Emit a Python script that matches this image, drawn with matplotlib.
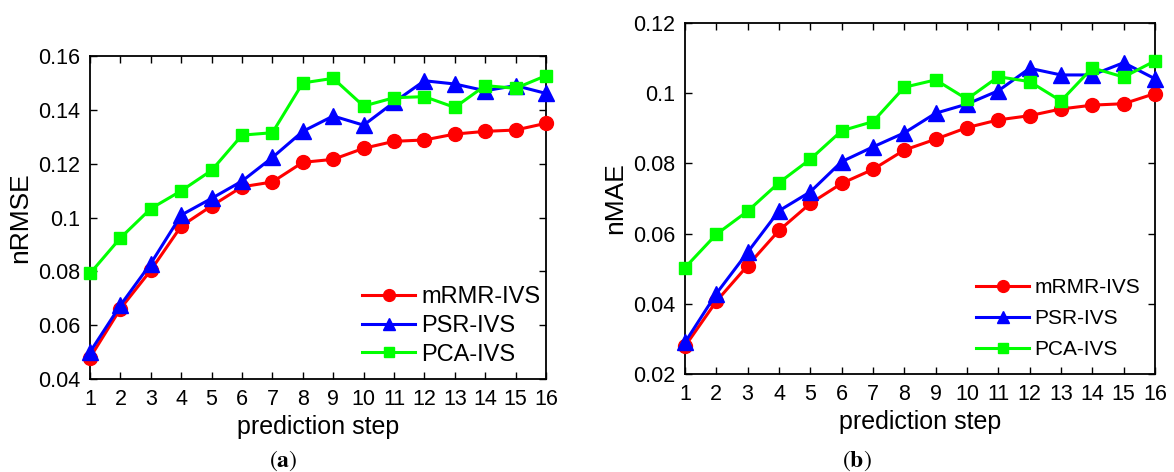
import numpy as np
import matplotlib
matplotlib.use("Agg")
import matplotlib.pyplot as plt

plt.rcParams['font.family'] = ['Liberation Sans', 'DejaVu Sans']
plt.rcParams['mathtext.fontset'] = 'stix'

steps = np.arange(1, 17)
series_names = ["mRMR-IVS", "PSR-IVS", "PCA-IVS"]

# (a) nRMSE per prediction step
nrmse_mrmr = [0.0479, 0.0661, 0.0804, 0.0968, 0.1043, 0.1114, 0.1132, 0.1205,
              0.1216, 0.1257, 0.1283, 0.1288, 0.1310, 0.1320, 0.1325, 0.1350]
nrmse_psr = [0.0500, 0.0674, 0.0829, 0.1009, 0.1071, 0.1135, 0.1223, 0.1320,
             0.1377, 0.1343, 0.1428, 0.1508, 0.1496, 0.1471, 0.1490, 0.1461]
nrmse_pca = [0.0792, 0.0924, 0.1033, 0.1099, 0.1175, 0.1306, 0.1315, 0.1500,
             0.1517, 0.1414, 0.1445, 0.1449, 0.1409, 0.1490, 0.1480, 0.1527]

# (b) nMAE per prediction step
nmae_mrmr = [0.0279, 0.0407, 0.0509, 0.0609, 0.0686, 0.0743, 0.0783, 0.0838,
             0.0869, 0.0902, 0.0924, 0.0936, 0.0955, 0.0966, 0.0970, 0.0999]
nmae_psr = [0.0290, 0.0429, 0.0547, 0.0665, 0.0719, 0.0805, 0.0847, 0.0887,
            0.0943, 0.0969, 0.1007, 0.1071, 0.1052, 0.1052, 0.1087, 0.1041]
nmae_pca = [0.0503, 0.0598, 0.0664, 0.0745, 0.0812, 0.0893, 0.0919, 0.1017,
            0.1038, 0.0983, 0.1047, 0.1033, 0.0978, 0.1072, 0.1046, 0.1092]

yticks_a = [0.04, 0.06, 0.08, 0.10, 0.12, 0.14, 0.16]
ylabels_a = ["0.04", "0.06", "0.08", "0.1", "0.12", "0.14", "0.16"]
yticks_b = [0.02, 0.04, 0.06, 0.08, 0.10, 0.12]
ylabels_b = ["0.02", "0.04", "0.06", "0.08", "0.1", "0.12"]

colors = ["#ff0000", "#0000ff", "#00ff00"]
markers = ["o", "^", "s"]
msizes = [10, 11, 9]

fig = plt.figure(figsize=(11.74, 4.72), dpi=100)
ax1 = fig.add_axes([90 / 1174, 1 - 379 / 472, 456 / 1174, 323 / 472])
ax2 = fig.add_axes([685 / 1174, 1 - 374 / 472, 470 / 1174, 351 / 472])


def draw_panel(ax, data, yticks, ylabels, ylabel, leg_anchor, leg_size,
               leg_spacing, leg_handle):
    for vals, name, c, m, ms in zip(data, series_names, colors, markers, msizes):
        ax.plot(steps, vals, color=c, marker=m, markersize=ms, linewidth=2.2,
                label=name, clip_on=False, zorder=3)
    ax.set_xlim(1, 16)
    ax.set_ylim(yticks[0], yticks[-1])
    ax.set_xticks(steps)
    ax.set_yticks(yticks)
    ax.set_yticklabels(ylabels)
    ax.tick_params(direction="in", top=True, right=True, length=5, width=1,
                   labelsize=15.5, pad=7)
    for sp in ax.spines.values():
        sp.set_linewidth(1.3)
    ax.set_xlabel("prediction step", fontsize=18, labelpad=4)
    ax.set_ylabel(ylabel, fontsize=19, labelpad=4)
    ax.legend(loc="lower right", bbox_to_anchor=leg_anchor, frameon=False,
              fontsize=leg_size, handlelength=leg_handle,
              labelspacing=leg_spacing, handletextpad=0.25,
              borderaxespad=0.3, markerscale=0.85)


draw_panel(ax1, [nrmse_mrmr, nrmse_psr, nrmse_pca], yticks_a, ylabels_a,
           "nRMSE", (1.024, -0.01), 17, 0.28, 2.25)
draw_panel(ax2, [nmae_mrmr, nmae_psr, nmae_pca], yticks_b, ylabels_b,
           "nMAE", (1.0, 0.0), 15, 0.59, 2.55)

fig.text(283 / 1174, 1 - 461 / 472, r"$(\mathbf{a})$", fontsize=17,
         ha="center", va="center")
fig.text(857 / 1174, 1 - 461 / 472, r"$(\mathbf{b})$", fontsize=17,
         ha="center", va="center")

fig.savefig("out.png", dpi=100)
